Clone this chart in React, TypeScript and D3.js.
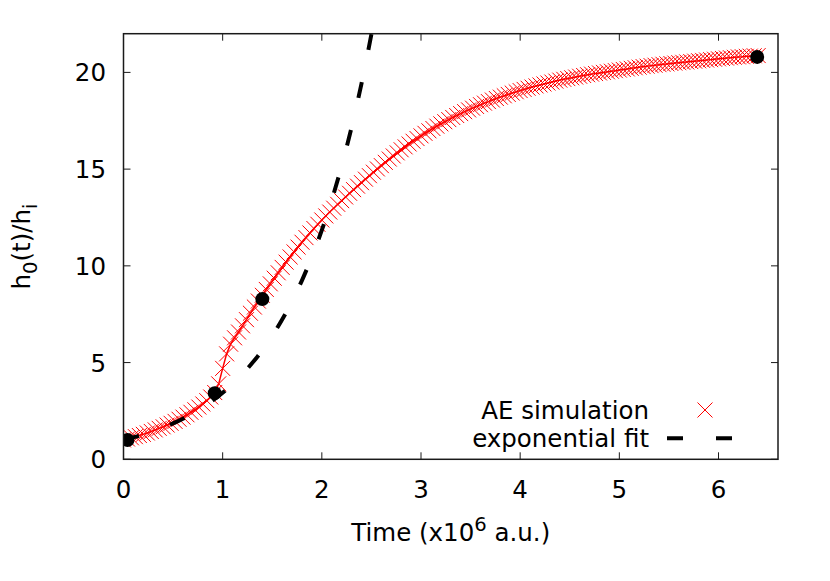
import React from "react";
import * as d3 from "d3";

const simTime = [
  0.00, 0.04, 0.08, 0.12, 0.16, 0.20, 0.24, 0.28, 0.32, 0.36, 0.40, 0.44, 0.48, 0.52, 0.56, 0.60,
  0.64, 0.68, 0.72, 0.76, 0.80, 0.84, 0.88, 0.92, 0.96, 1.00, 1.04, 1.08, 1.12, 1.16, 1.20, 1.24,
  1.28, 1.32, 1.36, 1.40, 1.44, 1.48, 1.52, 1.56, 1.60, 1.64, 1.68, 1.72, 1.76, 1.80, 1.84, 1.88,
  1.92, 1.96, 2.00, 2.04, 2.08, 2.12, 2.16, 2.20, 2.24, 2.28, 2.32, 2.36, 2.40, 2.44, 2.48, 2.52,
  2.56, 2.60, 2.64, 2.68, 2.72, 2.76, 2.80, 2.84, 2.88, 2.92, 2.96, 3.00, 3.04, 3.08, 3.12, 3.16,
  3.20, 3.24, 3.28, 3.32, 3.36, 3.40, 3.44, 3.48, 3.52, 3.56, 3.60, 3.64, 3.68, 3.72, 3.76, 3.80,
  3.84, 3.88, 3.92, 3.96, 4.00, 4.04, 4.08, 4.12, 4.16, 4.20, 4.24, 4.28, 4.32, 4.36, 4.40, 4.44,
  4.48, 4.52, 4.56, 4.60, 4.64, 4.68, 4.72, 4.76, 4.80, 4.84, 4.88, 4.92, 4.96, 5.00, 5.04, 5.08,
  5.12, 5.16, 5.20, 5.24, 5.28, 5.32, 5.36, 5.40, 5.44, 5.48, 5.52, 5.56, 5.60, 5.64, 5.68, 5.72,
  5.76, 5.80, 5.84, 5.88, 5.92, 5.96, 6.00, 6.04, 6.08, 6.12, 6.16, 6.20, 6.24, 6.28, 6.32, 6.36,
  6.40,
];

const simValue = [
  1.00, 1.05, 1.11, 1.17, 1.23, 1.29, 1.36, 1.44, 1.52, 1.60, 1.68, 1.77, 1.86, 1.96, 2.07, 2.18,
  2.30, 2.43, 2.56, 2.70, 2.86, 3.03, 3.22, 3.45, 3.90, 4.70, 5.45, 5.95, 6.28, 6.58, 6.90, 7.22,
  7.55, 7.87, 8.18, 8.48, 8.78, 9.07, 9.36, 9.64, 9.92, 10.19, 10.46, 10.72, 10.97, 11.22, 11.46, 11.70,
  11.93, 12.15, 12.37, 12.58, 12.78, 12.98, 13.18, 13.37, 13.56, 13.75, 13.94, 14.12, 14.30, 14.48, 14.66, 14.84,
  15.01, 15.18, 15.35, 15.52, 15.68, 15.84, 16.00, 16.15, 16.30, 16.44, 16.58, 16.72, 16.85, 16.98, 17.10, 17.22,
  17.34, 17.45, 17.56, 17.67, 17.77, 17.87, 17.97, 18.06, 18.15, 18.24, 18.33, 18.41, 18.49, 18.57, 18.65, 18.72,
  18.79, 18.86, 18.93, 19.00, 19.06, 19.12, 19.18, 19.24, 19.30, 19.35, 19.40, 19.45, 19.50, 19.55, 19.60, 19.64,
  19.68, 19.72, 19.76, 19.80, 19.84, 19.88, 19.91, 19.94, 19.97, 20.00, 20.03, 20.06, 20.09, 20.12, 20.15, 20.18,
  20.21, 20.24, 20.27, 20.30, 20.32, 20.35, 20.37, 20.40, 20.42, 20.44, 20.46, 20.48, 20.50, 20.52, 20.54, 20.56,
  20.58, 20.60, 20.62, 20.64, 20.66, 20.68, 20.70, 20.72, 20.74, 20.76, 20.78, 20.80, 20.81, 20.83, 20.84, 20.86,
  20.87,
];

const fitTime = [0, 0.1, 0.2, 0.3, 0.4, 0.5, 0.6, 0.7, 0.8, 0.9, 1.0, 1.1, 1.2, 1.3, 1.4, 1.5, 1.6, 1.7, 1.8, 1.9, 2.0, 2.1, 2.2, 2.3, 2.4, 2.5, 2.6];
const fitValue = [1.0, 1.132, 1.281, 1.449, 1.640, 1.855, 2.099, 2.376, 2.688, 3.042, 3.442, 3.895, 4.407, 4.987, 5.643, 6.385, 7.225, 8.176, 9.252, 10.469, 11.846, 13.404, 15.168, 17.163, 19.421, 21.977, 24.87];

const dotTime = [0.04, 0.92, 1.40, 6.39];
const dotValue = [1.0, 3.42, 8.28, 20.8];

const xTicks = [0, 1, 2, 3, 4, 5, 6];
const yTicks = [0, 5, 10, 15, 20];

const legendLabels = ["AE simulation", "exponential fit"];

const W = 830;
const H = 581;
const FONT = "'DejaVu Sans', sans-serif";
const FS = 24.5;

export default function App() {
  const x = d3.scaleLinear().domain([0, 6.6]).range([123.5, 778]);
  const y = d3.scaleLinear().domain([0, 22]).range([459.3, 33.7]);
  const [x0, x1] = x.range();
  const [yb, yt] = y.range();

  const simData = simTime.map((t, i) => [t, simValue[i]] as [number, number]);
  const fitData = fitTime.map((t, i) => [t, fitValue[i]] as [number, number]);

  const simLine = d3.line<[number, number]>().x((d) => x(d[0])).y((d) => y(d[1]));
  const fitLine = d3
    .line<[number, number]>()
    .x((d) => x(d[0]))
    .y((d) => y(d[1]))
    .curve(d3.curveMonotoneX);

  const cs = 7.5;
  const cross = (cx: number, cy: number, key: any) => (
    <path
      key={key}
      d={`M${cx - cs},${cy - cs}L${cx + cs},${cy + cs}M${cx - cs},${cy + cs}L${cx + cs},${cy - cs}`}
      stroke="#ff0000"
      strokeWidth={1}
      fill="none"
    />
  );

  const tickLen = 7;
  const border = "#1a1a1a";

  return (
    <svg
      width={W}
      height={H}
      style={{ position: "absolute", left: 0, top: 0, background: "#fff" }}
      fontFamily={FONT}
    >
      <defs>
        <clipPath id="plotclip">
          <rect x={x0} y={yt} width={x1 - x0} height={yb - yt} />
        </clipPath>
      </defs>
      <rect x={0} y={0} width={W} height={H} fill="#fff" />

      {/* ticks */}
      {xTicks.map((t) => (
        <g key={"xt" + t}>
          <line x1={x(t)} x2={x(t)} y1={yb} y2={yb - tickLen} stroke={border} strokeWidth={1} />
          <line x1={x(t)} x2={x(t)} y1={yt} y2={yt + tickLen} stroke={border} strokeWidth={1} />
          <text x={x(t)} y={498} textAnchor="middle" fontSize={FS} fill="#000">
            {t}
          </text>
        </g>
      ))}
      {yTicks.map((v) => (
        <g key={"yt" + v}>
          <line x1={x0} x2={x0 + tickLen} y1={y(v)} y2={y(v)} stroke={border} strokeWidth={1} />
          <line x1={x1} x2={x1 - tickLen} y1={y(v)} y2={y(v)} stroke={border} strokeWidth={1} />
          <text x={106} y={y(v) + 9} textAnchor="end" fontSize={FS} fill="#000">
            {v}
          </text>
        </g>
      ))}

      <g clipPath="url(#plotclip)">
        {/* simulation crosses */}
        {simData.map((d, i) => cross(x(d[0]), y(d[1]), "c" + i))}
        <path d={simLine(simData) || ""} fill="none" stroke="#ff0000" strokeWidth={1.5} />
        {/* exponential fit */}
        <path
          d={fitLine(fitData) || ""}
          fill="none"
          stroke="#000"
          strokeWidth={4}
          strokeDasharray="16 33"
        />
        {/* dots */}
        {dotTime.map((t, i) => (
          <circle key={"d" + i} cx={x(t)} cy={y(dotValue[i])} r={7} fill="#000" />
        ))}
      </g>

      {/* border */}
      <rect x={x0} y={yt} width={x1 - x0} height={yb - yt} fill="none" stroke={border} strokeWidth={1.5} />

      {/* legend */}
      <text x={649} y={419} textAnchor="end" fontSize={FS} fill="#000">
        {legendLabels[0]}
      </text>
      {cross(705, 410, "lc")}
      <text x={649} y={446.7} textAnchor="end" fontSize={FS} fill="#000">
        {legendLabels[1]}
      </text>
      <line x1={667} x2={743} y1={438.3} y2={438.3} stroke="#000" strokeWidth={4} strokeDasharray="16 33" />

      {/* x title */}
      <text x={(x0 + x1) / 2} y={541} textAnchor="middle" fontSize={FS} fill="#000">
        Time (x10
        <tspan fontSize={FS * 0.8} dy={-10}>6</tspan>
        <tspan dy={10}> a.u.)</tspan>
      </text>

      {/* y title */}
      <text
        transform={`translate(30, ${(yb + yt) / 2}) rotate(-90)`}
        textAnchor="middle"
        fontSize={FS}
        fill="#000"
      >
        h
        <tspan fontSize={FS * 0.8} dy={7}>0</tspan>
        <tspan dy={-7}>(t)/h</tspan>
        <tspan fontSize={FS * 0.8} dy={7}>i</tspan>
      </text>
    </svg>
  );
}
